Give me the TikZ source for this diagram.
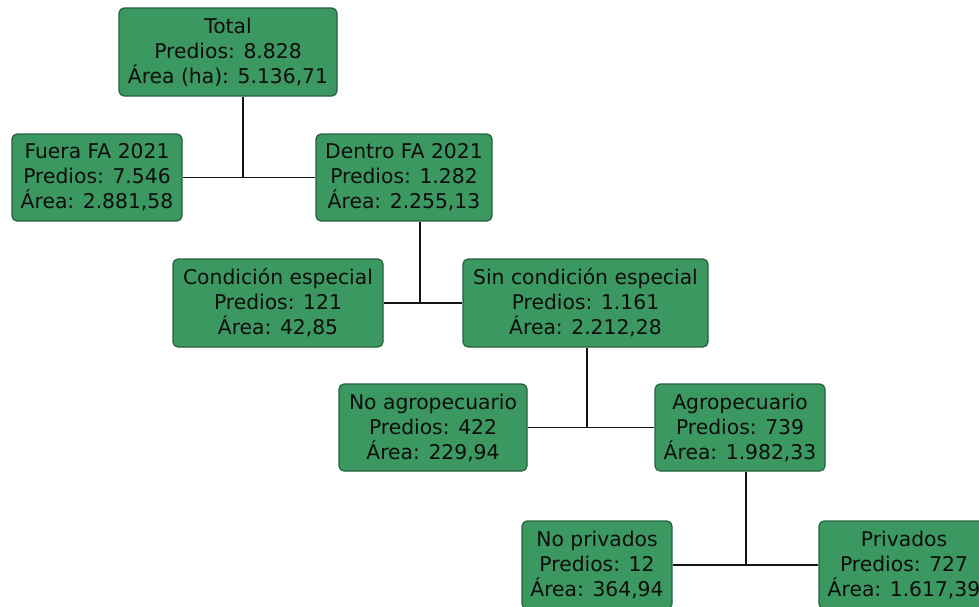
\documentclass[tikz,border=0pt]{standalone}
\usepackage{fontspec}
\setmainfont{DejaVu Sans}
\definecolor{boxfill}{RGB}{59,152,96}
\definecolor{boxedge}{RGB}{36,98,60}
\definecolor{linecol}{RGB}{20,20,20}
\begin{document}
\begin{tikzpicture}[x=1pt,y=-1pt,
  box/.style={draw=boxedge, fill=boxfill, line width=1.2pt, rounded corners=5pt,
    inner sep=0pt, align=center, text=black!95,
    font=\fontsize{20.3}{25}\selectfont},
  conn/.style={draw=linecol, line width=1.2pt}]
\useasboundingbox (0,0) rectangle (979,606);
\clip (0,0) rectangle (979,606);
\node[box, minimum width=218pt, minimum height=88pt] (total) at (228,52) {Total\\Predios: 8.828\\Área (ha): 5.136,71};
\node[box, minimum width=170pt, minimum height=87pt] (fuera) at (97,177.5) {Fuera FA 2021\\Predios: 7.546\\Área: 2.881,58};
\node[box, minimum width=176pt, minimum height=87pt] (dentro) at (404,177.5) {Dentro FA 2021\\Predios: 1.282\\Área: 2.255,13};
\node[box, minimum width=210pt, minimum height=88pt] (cond) at (278,303) {Condición especial\\Predios: 121\\Área: 42,85};
\node[box, minimum width=245pt, minimum height=88pt] (sin) at (585.5,303) {Sin condición especial\\Predios: 1.161\\Área: 2.212,28};
\node[box, minimum width=188pt, minimum height=87pt] (noagro) at (433,427.5) {No agropecuario\\Predios: 422\\Área: 229,94};
\node[box, minimum width=170pt, minimum height=87pt] (agro) at (740,427.5) {Agropecuario\\Predios: 739\\Área: 1.982,33};
\node[box, minimum width=150pt, minimum height=88pt] (nopriv) at (597,565) {No privados\\Predios: 12\\Área: 364,94};
\node[box, minimum width=170pt, minimum height=88pt] (priv) at (904,565) {Privados\\Predios: 727\\Área: 1.617,39};
\coordinate (j1) at (243,177.5);
\coordinate (j2) at (420,303);
\coordinate (j3) at (587,427.5);
\coordinate (j4) at (746,565);
\draw[conn] (total.south -| j1) -- (j1);
\draw[conn] (fuera.east) -- (dentro.west);
\draw[conn] (dentro.south -| j2) -- (j2);
\draw[conn] (cond.east) -- (sin.west);
\draw[conn] (sin.south -| j3) -- (j3);
\draw[conn] (noagro.east) -- (agro.west);
\draw[conn] (agro.south -| j4) -- (j4);
\draw[conn] (nopriv.east) -- (priv.west);
\end{tikzpicture}
\end{document}
